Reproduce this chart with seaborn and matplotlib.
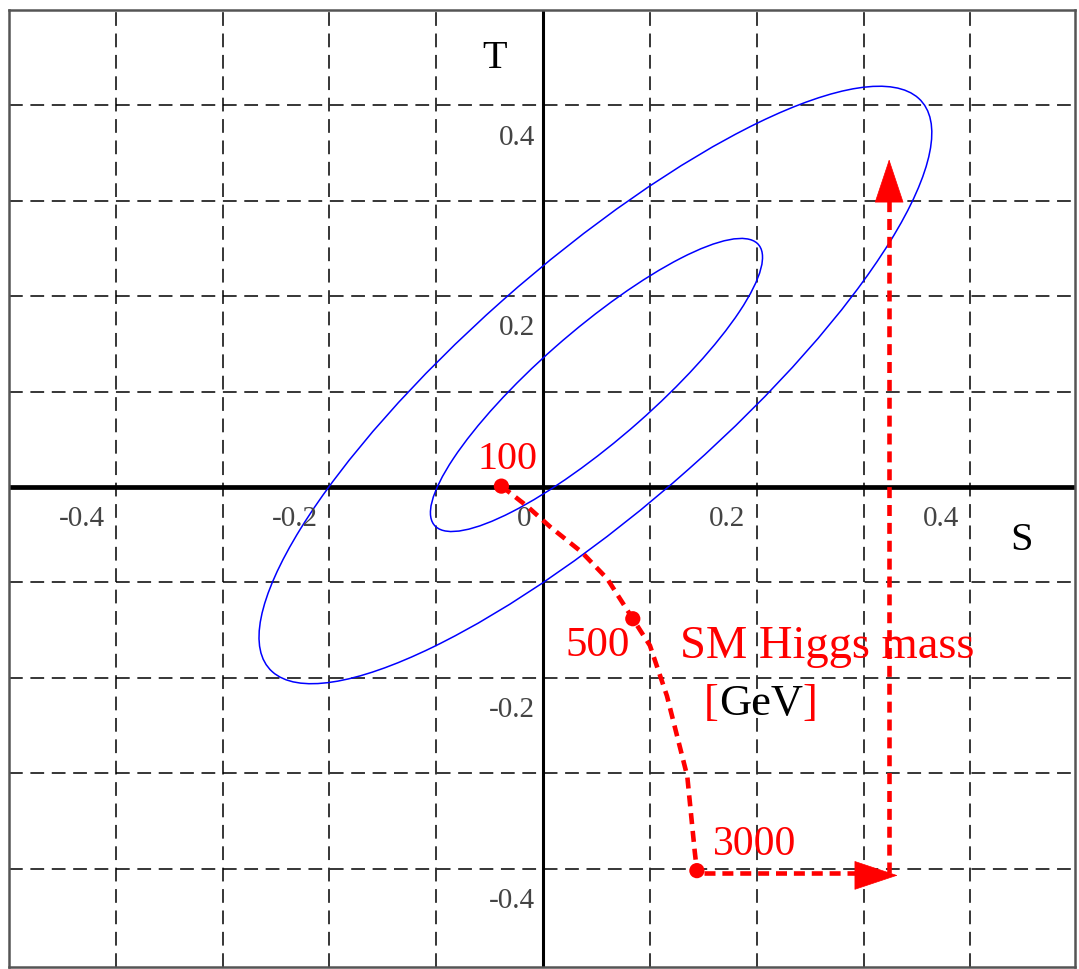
import matplotlib
matplotlib.use("Agg")
import matplotlib.pyplot as plt
from matplotlib.patches import Ellipse
import seaborn as sns

# grid / axis values
grid_ticks = [-0.4, -0.3, -0.2, -0.1, 0.0, 0.1, 0.2, 0.3, 0.4]
s_labels = [-0.4, -0.2, 0.0, 0.2, 0.4]
t_labels = [-0.4, -0.2, 0.2, 0.4]

# confidence ellipses: centre (S, T), semi axes, angle in degrees
outer_center = (0.049, 0.107)
outer_axes = (0.4264, 0.1241)
outer_angle = 44.8
inner_center = (0.050, 0.107)
inner_axes = (0.2114, 0.0554)
inner_angle = 44.6

# SM Higgs mass track
curve_S = [-0.039, -0.015, 0.007, 0.036, 0.060, 0.084, 0.100, 0.116, 0.135, 0.142, 0.144]
curve_T = [0.001, -0.020, -0.042, -0.068, -0.096, -0.138, -0.166, -0.219, -0.303, -0.382, -0.402]
mass_S = [-0.039, 0.084, 0.144]
mass_T = [0.001, -0.138, -0.402]
mass_labels = ["100", "500", "3000"]

# arrows towards larger mass
horiz_S = [0.151, 0.300]
horiz_T = [-0.405, -0.405]
vert_S = [0.324, 0.324]
vert_T = [-0.405, 0.305]

sns.set_style("white")
plt.rcParams["font.family"] = ["Liberation Serif", "DejaVu Serif"]

fig = plt.figure(figsize=(10.79, 9.70), dpi=100)
ax = fig.add_axes([9 / 1079, 2 / 970, 1066 / 1079, 957 / 970])
ax.set_xlim(-0.5, 0.498)
ax.set_ylim(-0.503, 0.5)

ax.set_xticks(grid_ticks)
ax.set_yticks(grid_ticks)
ax.set_xticklabels([])
ax.set_yticklabels([])
ax.tick_params(length=0)
ax.grid(True, color="black", lw=1.1, ls=(0, (9, 5)), zorder=0)
ax.set_axisbelow(True)
for sp in ax.spines.values():
    sp.set_color("#555555")
    sp.set_linewidth(1.8)

# S, T axes
ax.axhline(0, color="black", lw=3.4, zorder=2)
ax.axvline(0, color="black", lw=2.2, zorder=2)

# ellipses
for c, (a, b), ang in [(outer_center, outer_axes, outer_angle),
                       (inner_center, inner_axes, inner_angle)]:
    ax.add_patch(Ellipse(c, 2 * a, 2 * b, angle=ang, fill=False,
                         edgecolor="blue", lw=1.1, zorder=3))

# tick labels placed under-left of the grid crossings
for v in s_labels:
    lab = "0" if v == 0 else f"{v:.1f}"
    ax.text(v - 0.0105, -0.040, lab, ha="right", va="baseline",
            fontsize=21, color="#444444", zorder=4)
for v in t_labels:
    ax.text(-0.0075, v - 0.040, f"{v:.1f}", ha="right", va="baseline",
            fontsize=21, color="#444444", zorder=4)

ax.text(-0.045, 0.440, "T", ha="center", va="baseline", fontsize=29, color="black")
ax.text(0.448, -0.065, "S", ha="center", va="baseline", fontsize=29, color="black")

# red Higgs-mass track
red_ls = (0, (2.4, 1.5))
sns.lineplot(x=curve_S, y=curve_T, sort=False, estimator=None, color="red",
             lw=3.3, linestyle=red_ls, ax=ax, zorder=5)
sns.lineplot(x=horiz_S, y=horiz_T, sort=False, estimator=None, color="red",
             lw=3.3, linestyle=red_ls, ax=ax, zorder=5)
sns.lineplot(x=vert_S, y=vert_T, sort=False, estimator=None, color="red",
             lw=3.3, linestyle=red_ls, ax=ax, zorder=5)
sns.scatterplot(x=mass_S, y=mass_T, color="red", s=120, edgecolor="none", ax=ax, zorder=6)

arrow = dict(arrowstyle="-|>,head_length=1.5,head_width=0.5", color="red",
             lw=0.5, mutation_scale=20, shrinkA=0, shrinkB=0)
ax.annotate("", xy=(0.332, -0.407), xytext=(0.2947, -0.407), arrowprops=arrow, zorder=6)
ax.annotate("", xy=(0.324, 0.3435), xytext=(0.324, 0.2995), arrowprops=arrow, zorder=6)

label_pos = [(-0.0337, 0.020, 29), (0.0515, -0.176, 31), (0.198, -0.385, 30)]
for lab, (x, y, fs) in zip(mass_labels, label_pos):
    ax.text(x, y, lab, ha="center", va="baseline", fontsize=fs, color="red", zorder=7)

ax.text(0.266, -0.178, "SM Higgs mass", ha="center", va="baseline",
        fontsize=33.5, color="red", zorder=7)
t1 = ax.text(0.1506, -0.2377, "[", ha="left", va="baseline", fontsize=32, color="red", zorder=7)
t2 = ax.annotate("GeV", xy=(1, 0), xycoords=t1, ha="left", va="bottom",
                 fontsize=32, color="black", zorder=7)
ax.annotate("]", xy=(1, 0), xycoords=t2, ha="left", va="bottom",
            fontsize=32, color="red", zorder=7)

plt.savefig("out.png", dpi=100)
